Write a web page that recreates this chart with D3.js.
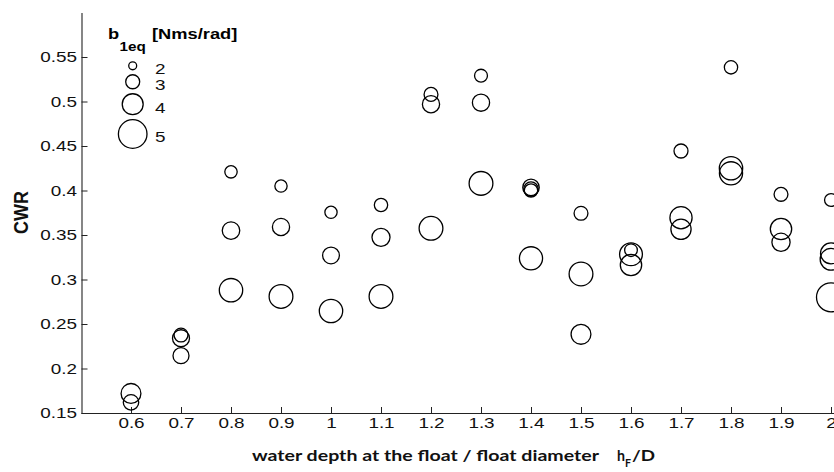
<!DOCTYPE html>
<html><head><meta charset="utf-8">
<script src="https://cdn.jsdelivr.net/npm/d3@7"></script>
<style>
html,body{margin:0;padding:0;background:#fff;}
svg{display:block;}
.sx{transform-box:fill-box;transform:scaleX(1.22);}
.sx-end{transform-origin:right center;}
.sx-mid{transform-origin:center center;}
.sx-start{transform-origin:left center;}
</style></head><body>
<svg id="chart" width="834" height="472"></svg>
<script>
// ---- data ----
const depthRatio = [
  0.6, 0.6,
  0.7, 0.7, 0.7,
  0.8, 0.8, 0.8,
  0.9, 0.9, 0.9,
  1.0, 1.0, 1.0,
  1.1, 1.1, 1.1,
  1.2, 1.2, 1.2,
  1.3, 1.3, 1.3,
  1.4, 1.4, 1.4, 1.4,
  1.5, 1.5, 1.5,
  1.6, 1.6, 1.6,
  1.7, 1.7, 1.7,
  1.8, 1.8, 1.8,
  1.9, 1.9, 1.9,
  2.0, 2.0, 2.0, 2.0
];
const cwr = [
  0.172, 0.162,
  0.2376, 0.234, 0.2144,
  0.421, 0.355, 0.288,
  0.405, 0.359, 0.281,
  0.3755, 0.327, 0.2646,
  0.3837, 0.3474, 0.281,
  0.508, 0.497, 0.3575,
  0.529, 0.4987, 0.408,
  0.4035, 0.4015, 0.400, 0.3238,
  0.3744, 0.3062, 0.2384,
  0.333, 0.3283, 0.3163,
  0.4444, 0.3694, 0.3564,
  0.5384, 0.425, 0.4193,
  0.3957, 0.3567, 0.3418,
  0.3893, 0.3294, 0.3227, 0.280
];
const b1eq = [
  3.85, 3.22,
  2.98, 3.45, 3.30,
  2.75, 3.52, 4.33,
  2.73, 3.48, 4.38,
  2.73, 3.42, 4.33,
  2.90, 3.60, 4.38,
  2.98, 3.48, 4.38,
  2.83, 3.48, 4.38,
  3.37, 3.07, 2.90, 4.30,
  2.98, 4.38, 3.85,
  2.80, 4.25, 4.06,
  3.00, 4.17, 3.90,
  2.90, 4.33, 4.30,
  2.98, 4.06, 3.62,
  2.83, 4.00, 4.10, 5.05
];
const xTickValues = [0.6,0.7,0.8,0.9,1.0,1.1,1.2,1.3,1.4,1.5,1.6,1.7,1.8,1.9,2.0];
const xTickLabels = ["0.6","0.7","0.8","0.9","1","1.1","1.2","1.3","1.4","1.5","1.6","1.7","1.8","1.9","2"];
const yTickValues = [0.15,0.2,0.25,0.3,0.35,0.4,0.45,0.5,0.55];
const yTickLabels = ["0.15","0.2","0.25","0.3","0.35","0.4","0.45","0.5","0.55"];
const legendValues = [2,3,4,5];
const legendLabels = ["2","3","4","5"];

// ---- layout ----
const svg = d3.select("#chart");
const x = d3.scaleLinear().domain([0.5, 2.1]).range([81, 881]);
const y = d3.scaleLinear().domain([0.15, 0.6]).range([413, 12.5]);
const r = d3.scalePow().exponent(1.4).domain([0, 5]).range([0, 14.3]);
const axisColor = "#222";
const tickFont = "'Liberation Sans', Arial, sans-serif";

// x axis
const gx = svg.append("g").attr("transform", `translate(0,${y(0.15)})`)
  .call(d3.axisBottom(x).tickValues(xTickValues)
    .tickFormat((d,i)=>xTickLabels[i])
    .tickSizeInner(-6).tickSizeOuter(0).tickPadding(4.5));
// y axis
const gy = svg.append("g").attr("transform", `translate(${x(0.5)+0.5},0)`)
  .call(d3.axisLeft(y).tickValues(yTickValues)
    .tickFormat((d,i)=>yTickLabels[i])
    .tickSizeInner(-6).tickSizeOuter(0).tickPadding(4.5));

[gx, gy].forEach(g => {
  g.attr("font-family", null).attr("font-size", null);
  g.select(".domain").attr("stroke", axisColor).attr("stroke-width", 1.1);
  g.selectAll(".tick line").attr("stroke", axisColor).attr("stroke-width", 1);
  g.selectAll(".tick text").attr("fill", "#111")
    .style("font-family", tickFont).style("font-size", "15.5px");
});
gx.selectAll(".tick text").attr("class", "sx sx-mid");
gy.selectAll(".tick text").attr("class", "sx sx-end");

// bubbles
svg.append("g").selectAll("circle")
  .data(d3.range(depthRatio.length))
  .join("circle")
  .attr("cx", i => x(depthRatio[i]))
  .attr("cy", i => y(cwr[i]))
  .attr("r", i => r(b1eq[i]))
  .attr("fill", "none")
  .attr("stroke", "#000")
  .attr("stroke-width", 1.3);

// legend
const lg = svg.append("g");
const lgX = 132.7;
let lgY = 65.8 - r(legendValues[0]);
const lgPos = legendValues.map((v,i) => {
  const c = lgY + r(v); lgY = c + r(v) + 5; return c;
});
lg.selectAll("circle").data(legendValues).join("circle")
  .attr("cx", lgX).attr("cy", (d,i)=>lgPos[i]).attr("r", d=>r(d))
  .attr("fill","none").attr("stroke","#000").attr("stroke-width",1.3);
lg.selectAll("text.lab").data(legendLabels).join("text")
  .attr("class","lab sx sx-start")
  .attr("x", 155).attr("y", (d,i)=>lgPos[i] + 8.5)
  .style("font-family", tickFont).style("font-size","15.5px").attr("fill","#111")
  .text(d=>d);
lg.append("text").attr("class","sx sx-start").attr("x",108).attr("y",39)
  .style("font-family", tickFont).style("font-size","15px").style("font-weight","bold")
  .text("b");
lg.append("text").attr("class","sx sx-start").attr("x",119.5).attr("y",51.5)
  .style("font-family", tickFont).style("font-size","12.5px").style("font-weight","bold")
  .text("1eq");
lg.append("text").attr("class","sx sx-start").attr("x",152).attr("y",39)
  .style("font-family", tickFont).style("font-size","15px").style("font-weight","bold")
  .text("[Nms/rad]");

// axis titles
const titleFont = "Lato, 'Open Sans', sans-serif";
svg.append("text").attr("x",252).attr("y",461)
  .attr("textLength",347).attr("lengthAdjust","spacingAndGlyphs")
  .style("font-family", titleFont).style("font-size","16px").style("font-weight","bold")
  .attr("fill","#111")
  .text("water depth at the float / float diameter");
svg.append("text").attr("x",617).attr("y",461)
  .attr("textLength",8).attr("lengthAdjust","spacingAndGlyphs")
  .style("font-family", titleFont).style("font-size","16px").style("font-weight","bold")
  .attr("fill","#111").text("h");
svg.append("text").attr("x",625).attr("y",467)
  .attr("textLength",6).attr("lengthAdjust","spacingAndGlyphs")
  .style("font-family", titleFont).style("font-size","12px").style("font-weight","bold")
  .attr("fill","#111").text("F");
svg.append("text").attr("x",632).attr("y",461)
  .attr("textLength",23).attr("lengthAdjust","spacingAndGlyphs")
  .style("font-family", titleFont).style("font-size","16px").style("font-weight","bold")
  .attr("fill","#111").text("/D");

svg.append("text")
  .attr("transform","translate(21,212.5) rotate(-90) scale(1,1.15)")
  .attr("text-anchor","middle").attr("dy","0.36em")
  .style("font-family", tickFont).style("font-size","18px").style("font-weight","bold")
  .attr("fill","#111").text("CWR");
</script>
</body></html>
